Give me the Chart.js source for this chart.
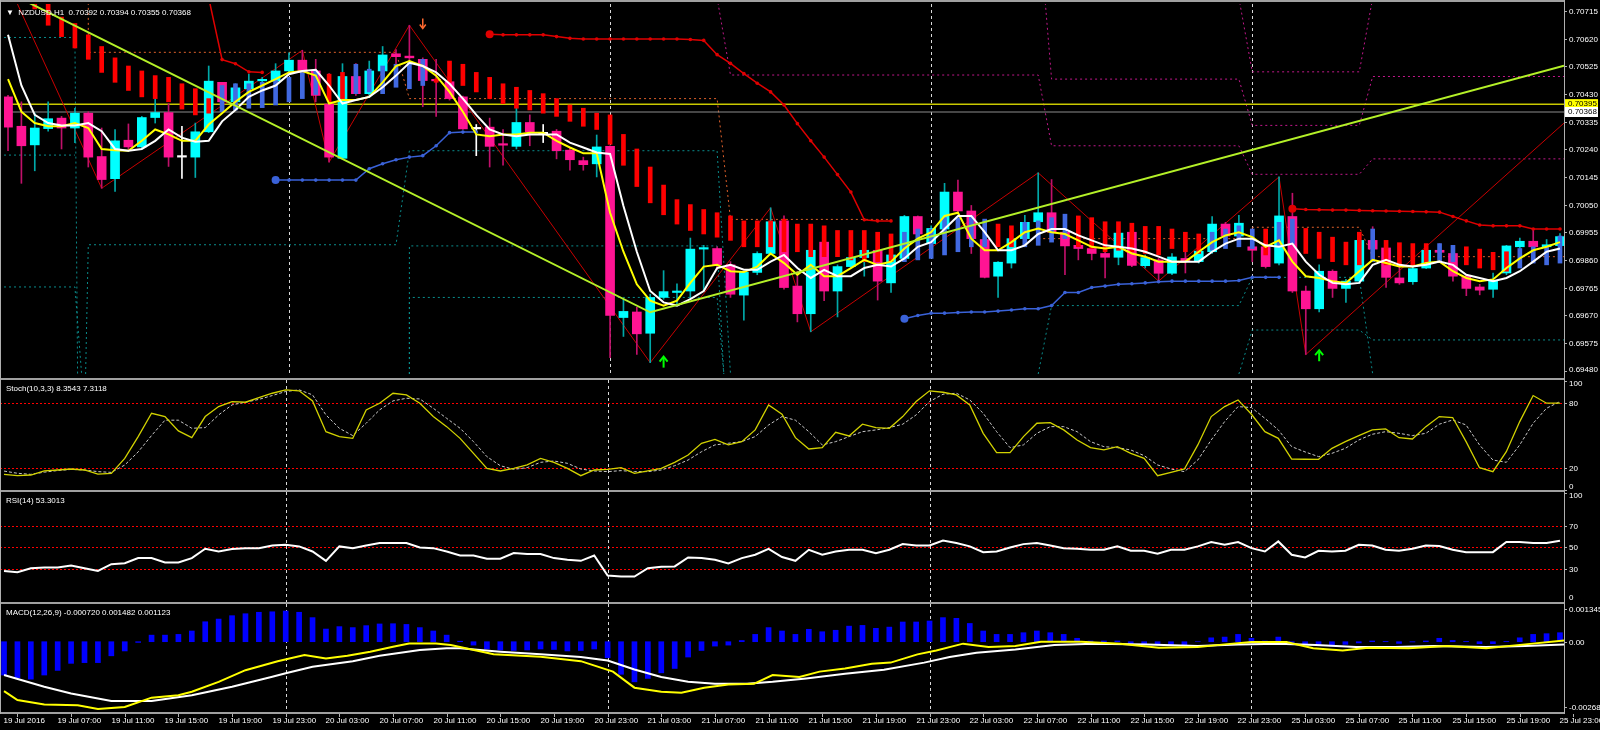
<!DOCTYPE html>
<html>
<head>
<meta charset="utf-8">
<script src="https://cdn.jsdelivr.net/npm/chart.js@4.4.1/dist/chart.umd.min.js"></script>
<style>
  body { margin: 0; background: #000; width: 1600px; height: 730px; overflow: hidden; position: relative; }
  canvas { position: absolute; left: 0; }
  .sep { position: absolute; left: 0; width: 1565px; height: 2px; background: #a0a0a0; z-index: 5; }
  .vline { position: absolute; top: 0; width: 1px; background: #b0b0b0; z-index: 5; }
</style>
</head>
<body>
<canvas id="mainChart" width="1600" height="378" style="top:0"></canvas>
<canvas id="stochChart" width="1600" height="111" style="top:380px"></canvas>
<canvas id="rsiChart" width="1600" height="110" style="top:492px"></canvas>
<canvas id="macdChart" width="1600" height="126" style="top:604px"></canvas>
<div class="sep" style="top:0"></div>
<div class="sep" style="top:378px"></div>
<div class="sep" style="top:490px"></div>
<div class="sep" style="top:602px"></div>
<div class="sep" style="top:712px"></div>
<div class="vline" style="left:0;height:714px"></div>
<div class="vline" style="left:1564px;height:714px"></div>
<script>
const X_MIN = -0.3;
const X_MAX = 116.3;
const FONT = '"Liberation Sans", Arial, sans-serif';

// hourly NZDUSD candles, bar 0..116
const candleOpen = [
  0.70420, 0.70319, 0.70255, 0.70311, 0.70347, 0.70313, 0.70364, 0.70215, 0.70139, 0.70271,
  0.70248, 0.70349, 0.70366, 0.70213, 0.70213, 0.70300, 0.70470, 0.70403, 0.70448, 0.70475,
  0.70474, 0.70509, 0.70546, 0.70509, 0.70395, 0.70209, 0.70490, 0.70431, 0.70509, 0.70568,
  0.70560, 0.70549, 0.70478, 0.70472, 0.70420, 0.70310, 0.70316, 0.70257, 0.70250, 0.70332,
  0.70293, 0.70302, 0.70237, 0.70201, 0.70190, 0.70250, 0.69662, 0.69681, 0.69608, 0.69731,
  0.69748, 0.69753, 0.69897, 0.69899, 0.69843, 0.69739, 0.69817, 0.69882, 0.69994, 0.69770,
  0.69675, 0.69921, 0.69753, 0.69837, 0.69868, 0.69893, 0.69781, 0.69865, 0.70009, 0.69916,
  0.69966, 0.70093, 0.70028, 0.69930, 0.69804, 0.69849, 0.69933, 0.69991, 0.70022, 0.69955,
  0.69910, 0.69899, 0.69882, 0.69869, 0.69955, 0.69840, 0.69860, 0.69814, 0.69865, 0.69854,
  0.69888, 0.69983, 0.69942, 0.69905, 0.69905, 0.69849, 0.70009, 0.69753, 0.69692, 0.69821,
  0.69762, 0.69787, 0.69927, 0.69901, 0.69798, 0.69785, 0.69832, 0.69893, 0.69882, 0.69804,
  0.69767, 0.69759, 0.69815, 0.69905, 0.69924, 0.69905, 0.69909
];
const candleHigh = [
  0.70425, 0.70403, 0.70364, 0.70403, 0.70353, 0.70381, 0.70369, 0.70313, 0.70308, 0.70327,
  0.70353, 0.70414, 0.70397, 0.70319, 0.70330, 0.70526, 0.70470, 0.70465, 0.70498, 0.70487,
  0.70534, 0.70571, 0.70580, 0.70549, 0.70500, 0.70534, 0.70534, 0.70543, 0.70593, 0.70582,
  0.70666, 0.70554, 0.70549, 0.70479, 0.70423, 0.70325, 0.70347, 0.70308, 0.70381, 0.70358,
  0.70325, 0.70308, 0.70246, 0.70213, 0.70289, 0.70252, 0.69725, 0.69697, 0.69742, 0.69823,
  0.69778, 0.69935, 0.69910, 0.69905, 0.69854, 0.69820, 0.69888, 0.70039, 0.70011, 0.69821,
  0.69905, 0.69927, 0.69843, 0.69877, 0.69901, 0.69899, 0.69888, 0.70013, 0.70011, 0.69977,
  0.70123, 0.70134, 0.70047, 0.69933, 0.69854, 0.69938, 0.70013, 0.70159, 0.70136, 0.69966,
  0.69921, 0.69916, 0.69910, 0.69955, 0.69955, 0.69877, 0.69865, 0.69882, 0.69888, 0.69933,
  0.70009, 0.69989, 0.70013, 0.69966, 0.69910, 0.70145, 0.70089, 0.69770, 0.69843, 0.69826,
  0.69793, 0.69935, 0.69974, 0.69910, 0.69877, 0.69837, 0.69897, 0.69916, 0.69888, 0.69809,
  0.69776, 0.69815, 0.69910, 0.69935, 0.69966, 0.69930, 0.69950
];
const candleLow = [
  0.70235, 0.70123, 0.70166, 0.70302, 0.70241, 0.70263, 0.70179, 0.70106, 0.70095, 0.70241,
  0.70241, 0.70330, 0.70181, 0.70140, 0.70143, 0.70297, 0.70369, 0.70375, 0.70442, 0.70470,
  0.70470, 0.70504, 0.70498, 0.70403, 0.70196, 0.70207, 0.70425, 0.70425, 0.70504, 0.70526,
  0.70448, 0.70386, 0.70353, 0.70409, 0.70308, 0.70218, 0.70179, 0.70185, 0.70241, 0.70252,
  0.70263, 0.70207, 0.70168, 0.70168, 0.70145, 0.69524, 0.69597, 0.69535, 0.69507, 0.69725,
  0.69703, 0.69725, 0.69753, 0.69826, 0.69731, 0.69653, 0.69809, 0.69877, 0.69759, 0.69647,
  0.69613, 0.69720, 0.69664, 0.69832, 0.69804, 0.69722, 0.69748, 0.69860, 0.69944, 0.69910,
  0.69961, 0.70022, 0.69882, 0.69798, 0.69731, 0.69832, 0.69927, 0.69986, 0.69944, 0.69809,
  0.69860, 0.69860, 0.69798, 0.69843, 0.69837, 0.69832, 0.69787, 0.69809, 0.69815, 0.69849,
  0.69882, 0.69933, 0.69935, 0.69854, 0.69832, 0.69843, 0.69748, 0.69535, 0.69681, 0.69731,
  0.69714, 0.69781, 0.69888, 0.69765, 0.69776, 0.69776, 0.69830, 0.69877, 0.69787, 0.69737,
  0.69740, 0.69731, 0.69809, 0.69899, 0.69888, 0.69895, 0.69900
];
const candleClose = [
  0.70316, 0.70252, 0.70313, 0.70345, 0.70313, 0.70364, 0.70213, 0.70136, 0.70269, 0.70248,
  0.70349, 0.70366, 0.70213, 0.70213, 0.70300, 0.70474, 0.70403, 0.70451, 0.70474, 0.70478,
  0.70509, 0.70546, 0.70504, 0.70425, 0.70213, 0.70490, 0.70431, 0.70509, 0.70564, 0.70558,
  0.70554, 0.70476, 0.70475, 0.70414, 0.70310, 0.70310, 0.70250, 0.70254, 0.70332, 0.70300,
  0.70293, 0.70235, 0.70204, 0.70187, 0.70248, 0.69669, 0.69683, 0.69606, 0.69731, 0.69751,
  0.69751, 0.69897, 0.69901, 0.69843, 0.69742, 0.69817, 0.69882, 0.69991, 0.69765, 0.69675,
  0.69893, 0.69753, 0.69837, 0.69868, 0.69893, 0.69787, 0.69877, 0.70009, 0.69949, 0.69968,
  0.70093, 0.70028, 0.69933, 0.69800, 0.69852, 0.69933, 0.69989, 0.70022, 0.69955, 0.69908,
  0.69899, 0.69882, 0.69869, 0.69952, 0.69841, 0.69868, 0.69814, 0.69870, 0.69854, 0.69890,
  0.69983, 0.69942, 0.69986, 0.69893, 0.69837, 0.70011, 0.69753, 0.69692, 0.69821, 0.69762,
  0.69787, 0.69927, 0.69897, 0.69800, 0.69781, 0.69830, 0.69893, 0.69886, 0.69804, 0.69762,
  0.69756, 0.69787, 0.69908, 0.69924, 0.69905, 0.69912, 0.69940
];

// narrow red/blue trend bars drawn over the candles
const overlayTop = [
  null, null, 0.70745, 0.70745, 0.70694, 0.70672, 0.70633, 0.70593, 0.70554, 0.70526,
  0.70509, 0.70493, 0.70487, 0.70465, 0.70448, 0.70414, 0.70459, 0.70465, 0.70465, 0.70470,
  0.70476, 0.70487, 0.70504, 0.70509, 0.70498, 0.70504, 0.70532, 0.70515, 0.70526, 0.70532,
  0.70537, 0.70549, 0.70481, 0.70543, 0.70532, 0.70504, 0.70487, 0.70465, 0.70453, 0.70442,
  0.70431, 0.70414, 0.70392, 0.70381, 0.70364, 0.70358, 0.70291, 0.70241, 0.70179, 0.70117,
  0.70067, 0.70050, 0.70033, 0.70022, 0.70011, 0.69994, 0.69994, 0.69994, 0.70000, 0.69983,
  0.69983, 0.69977, 0.69961, 0.69961, 0.69961, 0.69955, 0.69949, 0.69955, 0.69966, 0.69966,
  0.70005, 0.70005, 0.70011, 0.70000, 0.69983, 0.69977, 0.69989, 0.69994, 0.70005, 0.70017,
  0.70011, 0.70005, 0.69991, 0.69991, 0.69986, 0.69975, 0.69975, 0.69966, 0.69955, 0.69949,
  0.69955, 0.69966, 0.69977, 0.69966, 0.69966, 0.69989, 0.70000, 0.69968, 0.69955, 0.69938,
  0.69921, 0.69955, 0.69966, 0.69927, 0.69919, 0.69916, 0.69916, 0.69916, 0.69910, 0.69905,
  0.69897, 0.69886, 0.69888, 0.69899, 0.69905, 0.69905, 0.69942
];
const overlayBottom = [
  null, null, 0.70722, 0.70666, 0.70627, 0.70588, 0.70549, 0.70504, 0.70470, 0.70442,
  0.70420, 0.70414, 0.70403, 0.70378, 0.70358, 0.70364, 0.70369, 0.70375, 0.70381, 0.70383,
  0.70392, 0.70403, 0.70414, 0.70428, 0.70403, 0.70414, 0.70431, 0.70437, 0.70431, 0.70453,
  0.70448, 0.70459, 0.70470, 0.70470, 0.70459, 0.70437, 0.70414, 0.70397, 0.70381, 0.70375,
  0.70364, 0.70353, 0.70336, 0.70319, 0.70308, 0.70257, 0.70185, 0.70112, 0.70056, 0.70015,
  0.69983, 0.69961, 0.69949, 0.69938, 0.69927, 0.69905, 0.69905, 0.69905, 0.69888, 0.69888,
  0.69871, 0.69871, 0.69871, 0.69860, 0.69854, 0.69854, 0.69854, 0.69854, 0.69860, 0.69865,
  0.69877, 0.69888, 0.69905, 0.69905, 0.69905, 0.69905, 0.69905, 0.69910, 0.69921, 0.69933,
  0.69905, 0.69899, 0.69888, 0.69893, 0.69888, 0.69882, 0.69877, 0.69899, 0.69888, 0.69882,
  0.69893, 0.69899, 0.69905, 0.69899, 0.69877, 0.69905, 0.69916, 0.69882, 0.69865, 0.69854,
  0.69843, 0.69843, 0.69854, 0.69843, 0.69843, 0.69837, 0.69843, 0.69854, 0.69854, 0.69843,
  0.69832, 0.69826, 0.69821, 0.69832, 0.69849, 0.69843, 0.69849
];
const overlayColors = '--' + 'r'.repeat(14) + 'b'.repeat(8) + 'rr' + 'b'.repeat(6) + 'r'.repeat(35) +
  'b'.repeat(7) + 'rr' + 'bbbb' + 'r'.repeat(10) + 'bbbb' + 'r' + 'bb' + 'rrrrr' + 'b' + 'rrrr' + 'bb' + 'rrrr' + 'bbbb';

// moving averages
const maYellow = [
  0.70481, 0.70369, 0.70330, 0.70319, 0.70319, 0.70330, 0.70313, 0.70241, 0.70237, 0.70235,
  0.70269, 0.70308, 0.70291, 0.70269, 0.70269, 0.70325, 0.70364, 0.70403, 0.70437, 0.70459,
  0.70481, 0.70504, 0.70509, 0.70493, 0.70397, 0.70409, 0.70409, 0.70420, 0.70470, 0.70526,
  0.70543, 0.70526, 0.70493, 0.70437, 0.70369, 0.70291, 0.70285, 0.70291, 0.70291, 0.70297,
  0.70297, 0.70269, 0.70246, 0.70226, 0.70226, 0.70022, 0.69888, 0.69776, 0.69720, 0.69703,
  0.69720, 0.69781, 0.69837, 0.69843, 0.69821, 0.69818, 0.69837, 0.69882, 0.69849, 0.69809,
  0.69843, 0.69804, 0.69804, 0.69832, 0.69860, 0.69843, 0.69854, 0.69899, 0.69933, 0.69955,
  0.70011, 0.70022, 0.69933, 0.69893, 0.69893, 0.69921, 0.69955, 0.69968, 0.69955, 0.69949,
  0.69927, 0.69905, 0.69899, 0.69905, 0.69882, 0.69871, 0.69854, 0.69854, 0.69854, 0.69888,
  0.69921, 0.69944, 0.69955, 0.69938, 0.69905, 0.69927, 0.69854, 0.69804, 0.69798, 0.69787,
  0.69781, 0.69821, 0.69860, 0.69849, 0.69837, 0.69837, 0.69849, 0.69854, 0.69821, 0.69798,
  0.69787, 0.69793, 0.69832, 0.69865, 0.69893, 0.69905, 0.69921
];
const maWhite = [
  0.70633, 0.70459, 0.70358, 0.70330, 0.70322, 0.70322, 0.70330, 0.70302, 0.70241, 0.70235,
  0.70241, 0.70269, 0.70308, 0.70280, 0.70266, 0.70269, 0.70336, 0.70375, 0.70420, 0.70442,
  0.70459, 0.70498, 0.70509, 0.70513, 0.70459, 0.70397, 0.70409, 0.70420, 0.70453, 0.70493,
  0.70537, 0.70526, 0.70504, 0.70465, 0.70414, 0.70358, 0.70308, 0.70291, 0.70285, 0.70291,
  0.70291, 0.70291, 0.70263, 0.70246, 0.70229, 0.70224, 0.70045, 0.69888, 0.69753, 0.69714,
  0.69703, 0.69725, 0.69753, 0.69832, 0.69843, 0.69826, 0.69826, 0.69854, 0.69877, 0.69832,
  0.69798, 0.69826, 0.69804, 0.69804, 0.69832, 0.69843, 0.69837, 0.69865, 0.69905, 0.69921,
  0.69966, 0.70011, 0.70011, 0.69955, 0.69893, 0.69893, 0.69910, 0.69949, 0.69966, 0.69966,
  0.69944, 0.69927, 0.69910, 0.69905, 0.69899, 0.69888, 0.69871, 0.69854, 0.69854, 0.69854,
  0.69888, 0.69916, 0.69933, 0.69933, 0.69910, 0.69905, 0.69916, 0.69854, 0.69809, 0.69781,
  0.69776, 0.69781, 0.69843, 0.69860, 0.69843, 0.69837, 0.69843, 0.69854, 0.69843, 0.69809,
  0.69798, 0.69787, 0.69798, 0.69821, 0.69854, 0.69888, 0.69899
];

// drawn objects on the price window, [bar, price]
const trendLine = [[0, 0.70779], [48, 0.69680], [116.3, 0.70527]];
const zigzag = [
  [0, 0.70810], [7, 0.70106], [22, 0.70580], [24, 0.70196], [30, 0.70666], [48, 0.69507],
  [57, 0.70039], [60, 0.69613], [77, 0.70159], [86, 0.69787], [95, 0.70145], [97, 0.69535], [116.3, 0.70330]
];
const redTrail = [
  [15, 0.70760], [16, 0.70548], [17, 0.70534], [18, 0.70506], [19, 0.70504], [27, null],
  [36, 0.70635], [37, 0.70633], [38, 0.70633], [39, 0.70633], [40, 0.70633], [41, 0.70627], [42, 0.70621],
  [43, 0.70619], [44, 0.70619], [45, 0.70619], [46, 0.70619], [47, 0.70619], [48, 0.70619], [49, 0.70619],
  [50, 0.70619], [51, 0.70617], [52, 0.70614], [53, 0.70565], [54, 0.70535], [55, 0.70500], [56, 0.70467],
  [57, 0.70437], [58, 0.70392], [59, 0.70328], [60, 0.70269], [61, 0.70213], [62, 0.70153], [63, 0.70093],
  [64, 0.69998], [65, 0.69994], [66, 0.69994], [80, null],
  [96, 0.70036], [97, 0.70033], [98, 0.70032], [99, 0.70031], [100, 0.70031], [101, 0.70030], [102, 0.70029],
  [103, 0.70028], [104, 0.70027], [105, 0.70026], [106, 0.70025], [107, 0.70024], [108, 0.70009], [109, 0.69994],
  [110, 0.69980], [111, 0.69977], [112, 0.69977], [113, 0.69977], [114, 0.69966], [115, 0.69966], [116, 0.69966]
];
const redTrailStarts = [36, 96];
const blueTrail = [
  [20, 0.70134], [21, 0.70134], [22, 0.70134], [23, 0.70134], [24, 0.70134], [25, 0.70134], [26, 0.70134],
  [27, 0.70173], [28, 0.70190], [29, 0.70204], [30, 0.70213], [31, 0.70218], [32, 0.70252], [33, 0.70297],
  [34, 0.70299], [35, 0.70299], [50, null],
  [67, 0.69658], [68, 0.69669], [69, 0.69677], [70, 0.69677], [71, 0.69679], [72, 0.69681], [73, 0.69681],
  [74, 0.69684], [75, 0.69688], [76, 0.69692], [77, 0.69692], [78, 0.69703], [79, 0.69748], [80, 0.69748],
  [81, 0.69765], [82, 0.69770], [83, 0.69776], [84, 0.69778], [85, 0.69781], [86, 0.69785], [87, 0.69787],
  [88, 0.69787], [89, 0.69787], [90, 0.69787], [91, 0.69787], [92, 0.69789], [93, 0.69800], [94, 0.69800], [95, 0.69800]
];
const blueTrailStarts = [20, 67];
const orangeLevels = [
  [6, 0.70760], [6, 0.70573], [29, 0.70573], [30, 0.70414], [53, 0.70414], [54, 0.69999], [66, 0.69999], [70, null],
  [77, 0.69933], [93, 0.69933], [93, 0.69972], [101, 0.69972], [102, 0.69871], [116.3, 0.69871]
];
const magentaLevels = [
  [53, 0.70760], [54, 0.70495], [77, 0.70495], [78, 0.70252], [92, 0.70252], [93, 0.70154], [101, 0.70154],
  [102, 0.70207], [116.3, 0.70207], [116.3, null],
  [77.5, 0.70760], [78, 0.70481], [92, 0.70481], [93, 0.70322], [101, 0.70322], [102, 0.70490], [116.3, 0.70490], [116.3, null],
  [92, 0.70760], [93, 0.70506], [101, 0.70506], [102, 0.70760]
];
const tealLevels = [
  [-0.3, 0.70624], [5, 0.70624], [5.2, 0.69468], [5.2, null],
  [-0.3, 0.70220], [5, 0.70220], [5, null],
  [-0.3, 0.69767], [5, 0.69767], [5.5, 0.69468], [5.5, null],
  [5.8, 0.69468], [6, 0.69912], [29, 0.69912], [30, 0.70235], [53, 0.70235], [54, 0.69468], [54, null],
  [30, 0.69468], [30, 0.69908], [53, 0.69908], [53.5, 0.69468], [53.5, null],
  [30, 0.69468], [30, 0.69731], [53, 0.69731], [53.5, 0.69468], [53.5, null],
  [77, 0.69468], [78, 0.69703], [92, 0.69703], [93, 0.69800], [101, 0.69800], [102, 0.69468], [102, null],
  [92, 0.69468], [93, 0.69619], [101, 0.69619], [102, 0.69585], [116.3, 0.69585]
];
const arrowsUp = [[49, 0.69507], [98, 0.69529]];
const arrowsDown = [[31, 0.70672]];
const priceLineAsk = 0.70395;
const priceLineBid = 0.70368;

// sub windows
const stochMain = [
  14.5, 13.3, 13.9, 17.6, 18.5, 19.4, 18.5, 14.8, 15.4, 29.1, 49, 70.3, 67.3, 54.2, 48, 67.3, 76.4, 81, 80.4, 84.7,
  88.6, 91.7, 90.8, 81.6, 53.5, 49, 47.4, 73.4, 79.5, 88.6, 87.1, 79.5, 67.3, 58.1, 47.4, 33.7, 20, 17.6, 20, 23.1,
  29.1, 25.5, 20, 13.3, 18.5, 19.1, 20.6, 15.4, 17.6, 20, 25.5, 32.2, 42.9, 46.5, 41.4, 44.4, 55.1, 77.9, 69.5, 48,
  37.7, 38.9, 52.9, 49.6, 60.3, 57.2, 56.6, 67.3, 81, 90.8, 89.5, 87.1, 77.9, 52, 34.3, 34.3, 49, 61.2, 61.8, 55.1,
  45.9, 38.9, 36.8, 39.8, 33.7, 29.1, 13.3, 16.3, 19.4, 41.4, 67.3, 76.4, 82.5, 69.4, 53.5, 47.4, 28.5, 28.3, 28.2, 38.3,
  44.4, 49.9, 55.1, 56, 48, 46.8, 58.1, 67.3, 66.4, 44.4, 20.6, 17, 35.2, 62.7, 86.5, 79.5, 79.5
];
const stochSignal = [
  17.5, 15.5, 14.5, 16.5, 18, 19, 18.5, 17, 16.3, 23, 35, 50, 64, 64, 56.6, 57.2, 68.8, 78, 80.4, 83,
  86.5, 90.2, 91.7, 87.1, 68.8, 56.6, 49.9, 61.2, 73.4, 81.6, 84, 83.4, 74.9, 65.7, 56.6, 44.4, 30.7, 22.4, 19.1, 20.6,
  25.5, 26.7, 24.6, 19.4, 17.6, 17, 17.9, 17, 17, 18.5, 22.4, 27.6, 35.2, 41.4, 42.9, 44.4, 49, 59.6, 67.3, 64,
  53.5, 41.4, 44.4, 49, 53.5, 55.1, 57.2, 60.3, 68.8, 81, 87.7, 88.6, 82.5, 70.3, 53.5, 38.9, 41.4, 52, 58.1, 58.1,
  53.5, 44.4, 39.8, 38.9, 36.8, 31.6, 23.1, 19.4, 17, 27.6, 45.9, 62.7, 76.4, 75.5, 65.7, 55.1, 39.8, 35, 30.7, 33.7,
  38.3, 45.9, 51.1, 53.5, 52, 49.9, 52, 60.3, 64.2, 59.6, 41.4, 27.6, 25.5, 41.4, 61.2, 74.9, 81
];
const stochLevels = [80, 20];
const rsiValues = [
  28.4, 27.2, 30.9, 31.5, 31.5, 33.4, 30.9, 28.4, 34.6, 35.5, 40.2, 40.2, 36.2, 36.2, 40.2, 48.8, 46.3, 48.5, 49.4, 49.4,
  51.9, 52.5, 51, 46.3, 37.7, 51, 49.4, 51.9, 54.1, 54.1, 54.1, 50, 49.4, 46.3, 42.6, 42.6, 39.6, 39.6, 44.8, 43.9,
  43.9, 40.2, 38.6, 37.7, 42.6, 24.1, 23.2, 23.2, 30.9, 32.2, 32.5, 40.8, 40.2, 38.6, 35.2, 40.2, 43.3, 48.8, 41.2, 37.7,
  47.9, 43.3, 46.3, 47.9, 47.9, 44.8, 47.9, 53.1, 51.9, 51.9, 56.5, 54.1, 51, 45.7, 46.3, 50, 53.1, 54.1, 51.9, 49.4,
  48.8, 47.9, 47.9, 51, 47, 47, 44.2, 47.9, 47.9, 51, 55, 52.5, 55, 49.4, 46.3, 55.6, 43.3, 40.8, 47, 46.3,
  47, 52.5, 51.9, 47.9, 47, 48.8, 51.9, 51.3, 47.9, 45.7, 45.7, 45.7, 55, 55, 54.1, 54.1, 56.2
];
const rsiLevels = [70, 50, 30];
// MACD values in thousandths
const macdHist = [
  -1.37, -1.48, -1.54, -1.37, -1.18, -0.89, -0.86, -0.86, -0.58, -0.38, -0.03, 0.27, 0.27, 0.30, 0.44, 0.82, 0.93, 1.07, 1.15, 1.21,
  1.23, 1.26, 1.21, 0.99, 0.52, 0.62, 0.58, 0.66, 0.73, 0.74, 0.71, 0.58, 0.44, 0.27, 0.02, -0.14, -0.30, -0.34, -0.36, -0.34,
  -0.30, -0.32, -0.38, -0.36, -0.30, -0.66, -1.34, -1.65, -1.51, -1.28, -1.10, -0.63, -0.36, -0.18, -0.14, 0.05, 0.30, 0.58, 0.44, 0.30,
  0.51, 0.41, 0.47, 0.64, 0.67, 0.55, 0.60, 0.81, 0.81, 0.85, 0.99, 0.96, 0.75, 0.44, 0.30, 0.30, 0.37, 0.44, 0.37, 0.30,
  0.14, 0.03, 0.03, 0.03, -0.07, -0.11, -0.11, -0.14, -0.14, 0, 0.16, 0.19, 0.30, 0.14, 0.03, 0.19, -0.08, -0.11, -0.14, -0.18,
  -0.11, -0.05, 0.03, 0.01, -0.07, -0.01, 0.03, 0.14, 0.05, 0.01, -0.08, -0.08, 0.01, 0.16, 0.30, 0.33, 0.37
];
const macdWhite = [
  [0, -1.37], [3, -1.85], [5, -2.13], [8, -2.44], [11, -2.44], [14, -2.20], [17, -1.85], [20, -1.44], [21, -1.30],
  [23, -1.03], [26, -0.80], [28, -0.58], [31, -0.34], [33, -0.27], [34, -0.27], [37, -0.41], [40, -0.52], [43, -0.63],
  [45, -0.77], [47, -1.14], [49, -1.45], [51, -1.65], [53, -1.73], [55.4, -1.73], [57.3, -1.65], [59.8, -1.51],
  [62.7, -1.32], [65.6, -1.15], [68.6, -0.86], [70.5, -0.63], [72.5, -0.45], [75.4, -0.32], [78.3, -0.14], [81.2, -0.08],
  [85.2, -0.11], [89, -0.18], [92, -0.11], [95, -0.08], [97.8, -0.14], [100.8, -0.22], [103.7, -0.22], [106.6, -0.18],
  [110.5, -0.22], [113.4, -0.18], [116.3, -0.11]
];
const macdYellow = [
  [0, -2.03], [1, -2.40], [3, -2.58], [5.5, -2.61], [7, -2.77], [9, -2.68], [11, -2.30], [13, -2.20], [14, -2.06],
  [16, -1.65], [18, -1.17], [20.4, -0.80], [22.4, -0.55], [24, -0.69], [25.6, -0.58], [27.3, -0.41], [29, -0.21],
  [30.2, -0.07], [32.2, -0.07], [33.3, -0.14], [36.5, -0.52], [40, -0.62], [43, -0.80], [45.4, -1.23], [47, -1.89],
  [49, -2.06], [50.5, -2.10], [52.2, -1.89], [54, -1.76], [55.9, -1.73], [57.3, -1.37], [59.3, -1.45], [60.8, -1.23],
  [62.7, -1.10], [64.7, -0.91], [66.1, -0.86], [68.1, -0.52], [69.5, -0.36], [71.5, -0.08], [73.4, -0.22], [75.4, -0.18],
  [77.3, 0], [80.3, 0], [83.2, -0.08], [86.1, -0.25], [89, -0.22], [91, -0.11], [93, -0.01], [95.6, -0.01], [97.6, -0.27],
  [99.8, -0.36], [101.7, -0.25], [104.7, -0.27], [107.6, -0.18], [110.5, -0.27], [113.4, -0.11], [116.3, 0.05]
];

const priceTicks = [0.70715, 0.70620, 0.70525, 0.70430, 0.70335, 0.70240, 0.70145, 0.70050, 0.69955, 0.69860,
  0.69765, 0.69670, 0.69575, 0.69480];
const timeLabels = [
  '19 Jul 2016', '19 Jul 07:00', '19 Jul 11:00', '19 Jul 15:00', '19 Jul 19:00', '19 Jul 23:00',
  '20 Jul 03:00', '20 Jul 07:00', '20 Jul 11:00', '20 Jul 15:00', '20 Jul 19:00', '20 Jul 23:00',
  '21 Jul 03:00', '21 Jul 07:00', '21 Jul 11:00', '21 Jul 15:00', '21 Jul 19:00', '21 Jul 23:00',
  '22 Jul 03:00', '22 Jul 07:00', '22 Jul 11:00', '22 Jul 15:00', '22 Jul 19:00', '22 Jul 23:00',
  '25 Jul 03:00', '25 Jul 07:00', '25 Jul 11:00', '25 Jul 15:00', '25 Jul 19:00', '25 Jul 23:00'
];
const timeLabelBars = timeLabels.map((_, k) => 1 + 4 * k);
const daySeparators = [21, 45, 69, 93];

function pts(list) {
  return list.map(([x, y]) => ({ x, y }));
}
function series(values) {
  return values.map((y, x) => ({ x, y }));
}

function lineSet(data, color, width, order, extra) {
  return Object.assign({
    type: 'line', data, borderColor: color, borderWidth: width, pointRadius: 0,
    tension: 0, spanGaps: false, order,
  }, extra || {});
}

const decor = {
  id: 'decor',
  beforeDatasetsDraw(chart, args, o) {
    const { ctx, chartArea: a, scales: { x, y } } = chart;
    ctx.save();
    ctx.lineWidth = 1;
    ctx.setLineDash([2, 2]);
    ctx.strokeStyle = '#ff0000';
    (o.levels || []).forEach((v) => {
      const py = Math.round(y.getPixelForValue(v)) + 0.5;
      ctx.beginPath(); ctx.moveTo(a.left, py); ctx.lineTo(a.right, py); ctx.stroke();
    });
    ctx.strokeStyle = '#d8d8d8';
    ctx.setLineDash([3, 3]);
    daySeparators.forEach((i) => {
      const px = Math.round(x.getPixelForValue(i)) + 0.5;
      ctx.beginPath(); ctx.moveTo(px, a.top); ctx.lineTo(px, a.bottom); ctx.stroke();
    });
    ctx.restore();
  },
  afterDatasetsDraw(chart, args, o) {
    const { ctx, scales: { x, y } } = chart;
    if (!o.arrows) return;
    ctx.save();
    arrowsUp.forEach(([i, v]) => {
      const px = x.getPixelForValue(i), py = y.getPixelForValue(v);
      ctx.strokeStyle = '#00ff00'; ctx.lineWidth = 2;
      ctx.beginPath(); ctx.moveTo(px, py - 5); ctx.lineTo(px, py + 5); ctx.stroke();
      ctx.beginPath(); ctx.moveTo(px - 4, py - 1); ctx.lineTo(px, py - 6); ctx.lineTo(px + 4, py - 1); ctx.stroke();
    });
    arrowsDown.forEach(([i, v]) => {
      const px = x.getPixelForValue(i), py = y.getPixelForValue(v);
      ctx.strokeStyle = '#ff6a30'; ctx.lineWidth = 1.5;
      ctx.beginPath(); ctx.moveTo(px, py - 5); ctx.lineTo(px, py + 4); ctx.stroke();
      ctx.beginPath(); ctx.moveTo(px - 3, py + 1); ctx.lineTo(px, py + 5); ctx.lineTo(px + 3, py + 1); ctx.stroke();
    });
    ctx.restore();
  },
  afterDraw(chart, args, o) {
    const { ctx, chartArea: a, scales: { x, y } } = chart;
    ctx.save();
    ctx.font = '8px ' + FONT;
    ctx.textBaseline = 'middle';
    ctx.textAlign = 'left';
    (o.ticks || []).forEach((t) => {
      const py = Math.round(y.getPixelForValue(t.v)) + 0.5;
      const ty = Math.min(Math.max(py, a.top + 4), a.bottom - 4);
      ctx.strokeStyle = '#b0b0b0';
      ctx.beginPath(); ctx.moveTo(a.right, py); ctx.lineTo(a.right + 3, py); ctx.stroke();
      ctx.fillStyle = '#ffffff';
      ctx.fillText(t.label, a.right + 5, ty);
    });
    (o.boxes || []).forEach((b) => {
      const py = y.getPixelForValue(b.v);
      ctx.fillStyle = b.bg;
      ctx.fillRect(a.right + 1, py - 5, 33, 10);
      ctx.fillStyle = '#000000';
      ctx.fillText(b.label, a.right + 4, py);
    });
    if (o.title) {
      ctx.font = '8px ' + FONT;
      ctx.fillStyle = '#ffffff';
      ctx.fillText(o.title, o.titleX || 6, a.top + 9);
    }
    if (o.timeAxis) {
      ctx.font = '8px ' + FONT;
      ctx.fillStyle = '#ffffff';
      ctx.strokeStyle = '#b0b0b0';
      timeLabelBars.forEach((i, k) => {
        const px = Math.round(x.getPixelForValue(i)) + 0.5;
        ctx.beginPath(); ctx.moveTo(px, a.bottom + 2); ctx.lineTo(px, a.bottom + 5); ctx.stroke();
        ctx.fillText(timeLabels[k], px - 14, a.bottom + 9);
      });
    }
    ctx.restore();
  },
};

function baseOptions(yMin, yMax, decorOpts, bottomPad) {
  return {
    responsive: false,
    animation: false,
    devicePixelRatio: 1,
    layout: { padding: { left: 0, right: 36, top: 0, bottom: bottomPad || 0 } },
    plugins: { legend: { display: false }, tooltip: { enabled: false }, decor: decorOpts },
    datasets: { bar: { grouped: false } },
    scales: {
      x: { type: 'linear', min: X_MIN, max: X_MAX, display: false, offset: false },
      y: { type: 'linear', min: yMin, max: yMax, display: false },
    },
  };
}

function candleColors() {
  return candleOpen.map((o, i) => {
    const c = candleClose[i];
    if (o === c) return { body: '#ffffff', wick: '#ffffff' };
    return c > o ? { body: '#00ffff', wick: '#00a8a8' } : { body: '#ff1493', wick: '#c0106a' };
  });
}

function buildMainChart() {
  const colors = candleColors();
  const bodies = candleOpen.map((o, i) => ({ x: i, y: [o, candleClose[i]] }));
  const wicks = candleOpen.map((o, i) => ({ x: i, y: [candleLow[i], candleHigh[i]] }));
  const overlay = overlayTop.map((t, i) => ({ x: i, y: t === null ? null : [overlayBottom[i], t] }));
  const overlayFill = overlayColors.split('').map((c) => (c === 'b' ? '#4169e1' : '#ff0000'));
  const fullWidth = (v) => [{ x: X_MIN, y: v }, { x: X_MAX, y: v }];
  const dotted = { borderDash: [2, 3] };

  const datasets = [
    lineSet(pts(tealLevels), '#0a8c8c', 1, 30, dotted),
    lineSet(pts(magentaLevels), '#c0188a', 1, 30, dotted),
    lineSet(pts(orangeLevels), '#e0602a', 1, 30, dotted),
    lineSet(fullWidth(priceLineBid), '#8c8c8c', 1, 28),
    lineSet(fullWidth(priceLineAsk), '#c8c800', 1.5, 28),
    lineSet(pts(zigzag), '#c80000', 1, 26),
    { type: 'bar', data: wicks, backgroundColor: colors.map((c) => c.wick), barThickness: 1, order: 20 },
    { type: 'bar', data: bodies, backgroundColor: colors.map((c) => c.body), barThickness: 9, minBarLength: 1.5, order: 19 },
    { type: 'bar', data: overlay, backgroundColor: overlayFill, barThickness: 4, order: 12 },
    lineSet(pts(redTrail), '#e00000', 1.5, 10, {
      pointRadius: redTrail.map(([i]) => (redTrailStarts.includes(i) ? 4 : 1.8)),
      pointBackgroundColor: '#e00000', pointBorderWidth: 0,
    }),
    lineSet(pts(blueTrail), '#3a62d8', 1.5, 10, {
      pointRadius: blueTrail.map(([i]) => (blueTrailStarts.includes(i) ? 4 : 1.8)),
      pointBackgroundColor: '#3a62d8', pointBorderWidth: 0,
    }),
    lineSet(series(maYellow), '#ffff00', 2, 6),
    lineSet(series(maWhite), '#ffffff', 2, 5),
    lineSet(pts(trendLine), '#b4f028', 2, 3),
  ];

  const ticks = priceTicks.map((v) => ({ v, label: v.toFixed(5) }));
  return new Chart(document.getElementById('mainChart'), {
    type: 'bar',
    data: { datasets },
    options: baseOptions(0.69468, 0.70739, {
      ticks,
      boxes: [
        { v: priceLineAsk, label: priceLineAsk.toFixed(5), bg: '#ffff00' },
        { v: priceLineBid, label: priceLineBid.toFixed(5), bg: '#ffffff' },
      ],
      arrows: true,
      title: '\u25BC  NZDUSD,H1  0.70392 0.70394 0.70355 0.70368',
      titleX: 6,
    }),
  });
}

function buildStochChart() {
  return new Chart(document.getElementById('stochChart'), {
    type: 'line',
    data: {
      datasets: [
        lineSet(series(stochSignal), '#c8c8c8', 1, 2, { borderDash: [3, 2] }),
        lineSet(series(stochMain), '#d2d200', 1.3, 1),
      ],
    },
    options: baseOptions(-0.7, 100.7, {
      levels: stochLevels,
      ticks: [100, 80, 20, 0].map((v) => ({ v, label: String(v) })),
      title: 'Stoch(10,3,3) 8.3543 7.3118',
    }),
  });
}

function buildRsiChart() {
  return new Chart(document.getElementById('rsiChart'), {
    type: 'line',
    data: { datasets: [lineSet(series(rsiValues), '#ffffff', 2, 1)] },
    options: baseOptions(-0.3, 101.2, {
      levels: rsiLevels,
      ticks: [100, 70, 50, 30, 0].map((v) => ({ v, label: String(v) })),
      title: 'RSI(14) 53.3013',
    }),
  });
}

function buildMacdChart() {
  return new Chart(document.getElementById('macdChart'), {
    type: 'bar',
    data: {
      datasets: [
        { type: 'bar', data: series(macdHist).map((p) => ({ x: p.x, y: [0, p.y] })), backgroundColor: '#0000ff', barThickness: 5, order: 5 },
        lineSet(pts(macdWhite), '#ffffff', 2, 2),
        lineSet(pts(macdYellow), '#ffff00', 2, 1),
      ],
    },
    options: baseOptions(-2.89, 1.55, {
      ticks: [
        { v: 1.345, label: '0.001345' },
        { v: 0, label: '0.00' },
        { v: -2.681, label: '-0.002681' },
      ],
      title: 'MACD(12,26,9) -0.000720 0.001482 0.001123',
      timeAxis: true,
    }, 18),
  });
}

Chart.register(decor);
buildMainChart();
buildStochChart();
buildRsiChart();
buildMacdChart();
</script>
</body>
</html>
